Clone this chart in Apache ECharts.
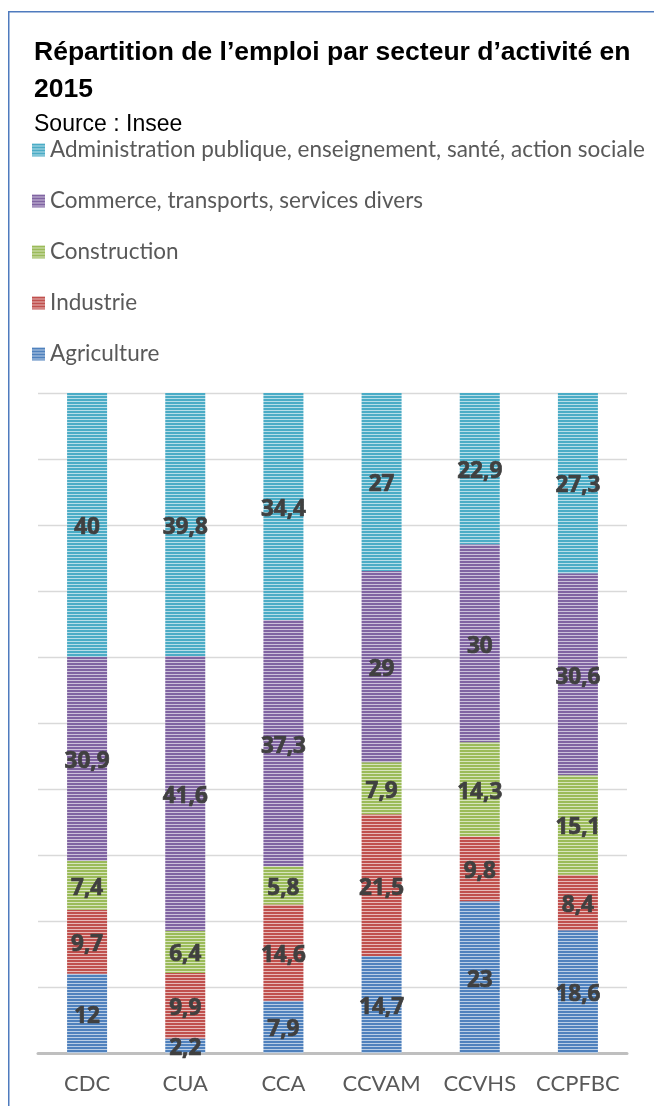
<!DOCTYPE html>
<html>
<head>
<meta charset="utf-8">
<script src="https://cdn.jsdelivr.net/npm/echarts@6/dist/echarts.min.js"></script>
<style>
html,body{margin:0;padding:0;background:#fff;}
#chart{width:654px;height:1106px;}
</style>
</head>
<body>
<div id="chart"></div>
<script>
const categories = ['CDC', 'CUA', 'CCA', 'CCVAM', 'CCVHS', 'CCPFBC'];
const agriculture = [12, 2.2, 7.9, 14.7, 23, 18.6];
const industrie = [9.7, 9.9, 14.6, 21.5, 9.8, 8.4];
const construction = [7.4, 6.4, 5.8, 7.9, 14.3, 15.1];
const commerce = [30.9, 41.6, 37.3, 29, 30, 30.6];
const administration = [40, 39.8, 34.4, 27, 22.9, 27.3];
const seriesNames = ['Agriculture', 'Industrie', 'Construction', 'Commerce, transports, services divers', 'Administration publique, enseignement, santé, action sociale'];
const seriesColors = ['#4F81BD', '#C0504D', '#9BBB59', '#8064A2', '#4BACC6'];
const titleText = 'Répartition de l\u2019emploi par secteur d\u2019activité en\n2015';
const sourceText = 'Source : Insee';

function mix(hex, t) {
  const r = parseInt(hex.slice(1,3),16), g = parseInt(hex.slice(3,5),16), b = parseInt(hex.slice(5,7),16);
  const f = v => Math.round(v + (255 - v) * t);
  return 'rgb(' + f(r) + ',' + f(g) + ',' + f(b) + ')';
}
function stripes(hex) {
  const c = document.createElement('canvas');
  c.width = 4; c.height = 3;
  const ctx = c.getContext('2d');
  ctx.fillStyle = hex; ctx.fillRect(0, 0, 4, 2);
  ctx.fillStyle = mix(hex, 0.6); ctx.fillRect(0, 2, 4, 1);
  return { image: c, repeat: 'repeat' };
}

const allSeries = [agriculture, industrie, construction, commerce, administration];
const totals = categories.map((_, i) => allSeries.reduce((s, arr) => s + arr[i], 0));

const chart = echarts.init(document.getElementById('chart'), null, { renderer: 'canvas' });
chart.setOption({
  backgroundColor: '#ffffff',
  animation: false,
  graphic: [{
    type: 'rect', left: 8, top: 11,
    shape: { x: 0, y: 0, width: 800, height: 1300 },
    style: { fill: 'transparent', stroke: '#4F7BBE', lineWidth: 1.5 },
    z: 0
  }],
  title: [{
    text: titleText, left: 29, top: 29,
    textStyle: { fontFamily: 'Liberation Sans', fontWeight: 'bold', fontSize: 26.5, lineHeight: 37, color: '#000' }
  }, {
    text: sourceText, left: 29, top: 108,
    textStyle: { fontFamily: 'Liberation Sans', fontWeight: 'normal', fontSize: 23, lineHeight: 24, color: '#000' }
  }],
  legend: {
    orient: 'vertical', left: 27, top: 133,
    data: seriesNames.slice().reverse(),
    itemWidth: 13, itemHeight: 13, itemGap: 27,
    icon: 'rect',
    textStyle: { fontFamily: 'Lato', fontSize: 22.5, lineHeight: 24, color: '#595959' }
  },
  grid: { left: 38, right: 27, top: 393, bottom: 53, containLabel: false },
  xAxis: {
    type: 'category', data: categories,
    axisLine: { lineStyle: { color: '#BFBFBF', width: 3 } },
    axisTick: { show: false },
    axisLabel: { interval: 0, fontFamily: 'Lato', fontSize: 22, color: '#595959', margin: 20 }
  },
  yAxis: {
    type: 'value', min: 0, max: 100, interval: 10,
    axisLabel: { show: false }, axisLine: { show: false }, axisTick: { show: false },
    splitLine: { lineStyle: { color: '#D9D9D9', width: 1.3 } }
  },
  series: allSeries.map((arr, k) => ({
    name: seriesNames[k], type: 'bar', stack: 'total', barWidth: 40,
    itemStyle: { color: stripes(seriesColors[k]) },
    label: {
      show: true, position: 'inside', offset: [0, 3],
      fontFamily: 'Noto Sans', fontWeight: 'bold', fontSize: 22.5, color: '#404040',
      textBorderColor: '#404040', textBorderWidth: 0.7,
      formatter: p => String(p.data.raw).replace('.', ',')
    },
    data: arr.map((v, i) => ({ value: v / totals[i] * 100, raw: v }))
  }))
});
</script>
</body>
</html>
